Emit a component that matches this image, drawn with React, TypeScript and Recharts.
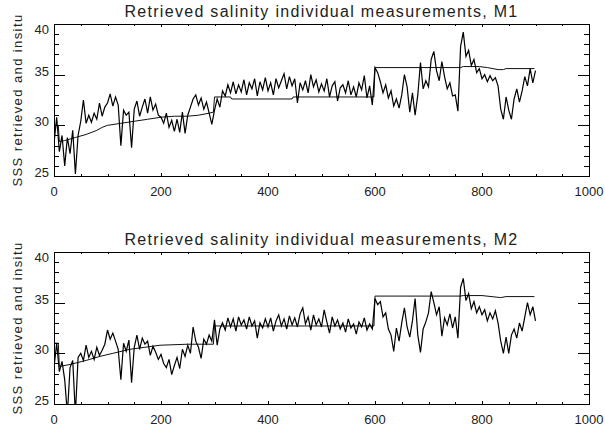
import { ComposedChart, Line, XAxis, YAxis } from "recharts";

// retrieved SSS, sampled every 5 measurements (0..900)
const sampleIndex = Array.from({ length: 181 }, (_, i) => i * 5);

const m1Retrieved = [
  28.2, 30.8, 27.4, 29.0, 26.0, 28.8, 27.2, 29.5, 25.2, 29.0,
  30.4, 32.5, 30.2, 31.0, 30.3, 31.2, 30.6, 32.2, 30.9, 31.8,
  32.2, 33.1, 31.9, 32.8, 32.0, 28.0, 31.5, 31.0, 31.3, 27.8,
  31.6, 32.4, 30.9, 31.8, 32.6, 31.2, 32.8, 31.5, 32.1, 31.0,
  30.8, 30.2, 31.2, 29.8, 30.5, 29.4, 30.6, 29.3, 31.3, 29.2,
  31.0, 31.8, 32.6, 33.0, 32.0, 32.7, 31.6, 32.3, 31.2, 30.1,
  31.5, 32.6, 31.8, 33.4, 32.9, 34.0, 33.2, 34.3, 33.1, 34.0,
  33.3, 34.5, 33.0, 34.2, 33.6, 34.6, 32.9, 34.3, 33.5, 34.7,
  33.4, 34.2, 33.0, 34.6, 33.7, 34.4, 35.1, 33.6, 34.8, 33.9,
  34.6, 32.2, 34.2, 33.5, 34.4, 33.2, 35.0, 33.8, 34.5, 33.3,
  34.1, 33.4, 34.6, 32.8, 33.9, 34.3, 32.4, 33.7, 34.0, 33.2,
  34.4, 33.0, 33.8, 32.8, 34.2, 33.5, 34.9, 32.7, 33.9, 32.0,
  35.7, 35.2, 34.3, 33.2, 34.0, 32.7, 33.4, 31.9, 32.6, 31.7,
  33.0, 35.0, 33.8, 31.3, 33.2, 31.0, 33.0, 36.2, 33.6, 34.4,
  33.8, 36.5, 37.3, 35.4, 34.4, 36.3, 34.8, 33.6, 34.2, 32.9,
  33.0, 31.4, 37.8, 39.2, 36.8, 37.4, 35.9, 36.5, 35.2, 35.6,
  34.6, 35.0, 34.3, 34.9, 34.4, 34.7, 33.9, 31.6, 30.6, 32.8,
  31.5, 30.6, 32.6, 33.6, 32.3, 33.4, 34.8, 33.9, 35.6, 34.2,
  35.4,
];

const m2Retrieved = [
  28.6, 31.0, 28.2, 29.2, 27.4, 24.0, 28.6, 29.3, 24.0, 29.6,
  30.0, 29.3, 30.8, 29.6, 30.2, 29.4, 30.6, 29.8, 30.3, 30.9,
  32.3, 31.4, 32.0, 31.2, 30.4, 27.4, 31.0, 30.2, 31.3, 27.1,
  30.6, 31.8, 30.4, 31.5, 30.9, 31.2, 29.8, 30.7, 30.1, 29.4,
  29.9, 29.0, 28.6, 29.4, 27.9, 28.8, 29.6, 28.5, 30.4, 29.7,
  30.8, 30.0, 32.6, 31.2, 30.6, 29.5, 31.4, 30.9, 31.8, 31.2,
  33.3, 30.8, 32.4, 33.0, 32.3, 33.5, 32.6, 33.4, 32.2, 33.6,
  32.8, 33.3, 32.4, 33.6, 32.7, 33.2, 31.5, 33.0, 32.5, 33.4,
  32.6, 33.5, 32.2, 33.2, 33.8, 32.7, 33.4, 32.4, 33.7, 32.8,
  33.5, 32.6, 33.9, 34.5, 32.9, 33.6, 32.3, 33.8, 32.8, 33.4,
  32.6, 34.3, 33.1, 32.0, 33.6, 32.7, 33.3, 32.4, 33.0, 32.1,
  33.4, 32.5, 32.9, 31.9, 33.1, 32.6, 33.5, 32.3, 32.9, 32.4,
  35.4, 34.8, 35.1, 33.6, 34.0, 32.4, 31.8, 30.2, 32.5, 31.2,
  33.0, 34.5, 32.6, 31.6, 33.2, 35.4, 31.8, 30.1, 32.4, 33.1,
  34.0, 36.1, 35.0, 33.8, 34.6, 31.7, 33.5, 32.8, 33.9, 32.5,
  33.6, 31.5, 36.5, 37.4, 35.2, 35.9, 34.4, 35.1, 34.0, 34.6,
  33.8, 34.3, 33.2, 34.0, 33.4, 34.2, 33.0, 31.2, 30.0, 31.6,
  30.0, 31.8, 32.4, 31.5, 33.0, 32.2, 33.6, 35.0, 33.8, 34.6,
  33.2,
];

// in situ reference, breakpoints of the step curve
const m1InsituX = [0, 8, 10, 20, 40, 60, 80, 90, 100, 125, 150, 175, 200, 225, 250, 270, 290, 298, 300, 330, 332, 445, 447, 598, 600, 760, 765, 795, 810, 830, 840, 845, 898];
const m1InsituY = [30.0, 30.0, 28.4, 28.5, 28.8, 29.1, 29.5, 29.8, 30.0, 30.2, 30.4, 30.6, 30.8, 30.9, 30.9, 31.0, 31.2, 31.3, 32.8, 32.8, 32.6, 32.6, 32.8, 32.8, 35.7, 35.7, 35.8, 35.8, 35.7, 35.5, 35.5, 35.6, 35.6];

const m2InsituX = [0, 8, 10, 30, 60, 86, 110, 142, 170, 198, 250, 298, 300, 598, 600, 760, 765, 800, 835, 845, 898];
const m2InsituY = [31.0, 31.0, 28.7, 28.9, 29.3, 29.7, 30.0, 30.4, 30.6, 30.8, 30.9, 30.9, 32.7, 32.7, 35.65, 35.65, 35.7, 35.7, 35.5, 35.6, 35.6];

const xTicks = Array.from({ length: 21 }, (_, i) => i * 50);
const yTicks = Array.from({ length: 16 }, (_, i) => 25 + i);
const xLabels = [0, 200, 400, 600, 800, 1000];
const yLabels = [25, 30, 35, 40];
const X_MIN = 0;
const X_MAX = 1000;
const Y_MIN = 25;
const Y_MAX = 40;

const FONT = "'Liberation Sans', Arial, sans-serif";
const INK = "#222";
const AXIS = "#000";

// plot box inside each panel (chart margins + axis sizes below)
const PLOT_L = 54;
const PLOT_T = 24;
const PLOT_W = 535;
const PLOT_H = 152;
const px = (v: number) => Math.round(PLOT_L + ((v - X_MIN) / (X_MAX - X_MIN)) * PLOT_W);
const py = (v: number) => Math.round(PLOT_T + PLOT_H - ((v - Y_MIN) / (Y_MAX - Y_MIN)) * PLOT_H);

const BottomLabel = ({ x, y, payload }: any) => (
  <text x={x} y={y + 20} textAnchor="middle" fontSize={13} fontFamily={FONT} fill={INK}>
    {payload.value}
  </text>
);

const LeftLabel = ({ x, y, payload }: any) => (
  <text x={x - 5} y={payload.value === Y_MAX ? y + 10 : y + 1} textAnchor="end" fontSize={13} fontFamily={FONT} fill={INK}>
    {payload.value}
  </text>
);

// box outline with inward ticks on all four sides, IDL style
const Frame = () => {
  const segs: { key: string; x1: number; y1: number; x2: number; y2: number }[] = [];
  xTicks.forEach((t) => {
    const len = t % 200 === 0 ? 3 : 2;
    segs.push({ key: `b${t}`, x1: px(t) + 0.5, y1: PLOT_T + PLOT_H, x2: px(t) + 0.5, y2: PLOT_T + PLOT_H - len });
    segs.push({ key: `t${t}`, x1: px(t) + 0.5, y1: PLOT_T, x2: px(t) + 0.5, y2: PLOT_T + len });
  });
  yTicks.forEach((v) => {
    const len = v % 5 === 0 ? 11 : 5;
    segs.push({ key: `l${v}`, x1: PLOT_L, y1: py(v) + 0.5, x2: PLOT_L + len, y2: py(v) + 0.5 });
    segs.push({ key: `r${v}`, x1: PLOT_L + PLOT_W, y1: py(v) + 0.5, x2: PLOT_L + PLOT_W - len, y2: py(v) + 0.5 });
  });
  return (
    <svg
      width={605}
      height={210}
      style={{ position: "absolute", left: 0, top: 0, zIndex: 10, pointerEvents: "none" }}
    >
      <rect
        x={PLOT_L + 0.5}
        y={PLOT_T + 0.5}
        width={PLOT_W}
        height={PLOT_H}
        fill="none"
        stroke={AXIS}
        strokeWidth={1}
      />
      {segs.map((s) => (
        <line key={s.key} x1={s.x1} y1={s.y1} x2={s.x2} y2={s.y2} stroke={AXIS} strokeWidth={1} />
      ))}
    </svg>
  );
};

type PanelProps = {
  top: number;
  title: string;
  retrieved: number[];
  insituX: number[];
  insituY: number[];
};

const Panel = ({ top, title, retrieved, insituX, insituY }: PanelProps) => {
  const retrievedData = sampleIndex.map((x, i) => ({ x, y: retrieved[i] }));
  const insituData = insituX.map((x, i) => ({ x, y: insituY[i] }));
  return (
    <div style={{ position: "absolute", left: 0, top, width: 605, height: 214 }}>
      <div
        style={{
          position: "absolute",
          left: PLOT_L,
          width: PLOT_W,
          top: 4,
          textAlign: "center",
          fontFamily: FONT,
          fontSize: 16,
          letterSpacing: 1.3,
          lineHeight: "16px",
          color: INK,
          whiteSpace: "nowrap",
        }}
      >
        {title}
      </div>
      <div
        style={{
          position: "absolute",
          left: 18,
          top: 100,
          transform: "translate(-50%, -50%) rotate(-90deg)",
          fontFamily: FONT,
          fontSize: 13,
          letterSpacing: 1.4,
          lineHeight: "14px",
          color: INK,
          whiteSpace: "nowrap",
        }}
      >
        SSS retrieved and insitu
      </div>
      <ComposedChart width={605} height={210} margin={{ top: PLOT_T, right: 16, bottom: 0, left: 0 }}>
        <XAxis
          type="number"
          dataKey="x"
          domain={[X_MIN, X_MAX]}
          ticks={xLabels}
          interval={0}
          allowDataOverflow
          height={34}
          tickSize={0}
          tickMargin={0}
          tickLine={false}
          axisLine={false}
          tick={<BottomLabel />}
        />
        <YAxis
          type="number"
          domain={[Y_MIN, Y_MAX]}
          ticks={yLabels}
          interval={0}
          allowDataOverflow
          width={PLOT_L}
          tickSize={0}
          tickMargin={0}
          tickLine={false}
          axisLine={false}
          tick={<LeftLabel />}
        />
        <Line
          data={insituData}
          dataKey="y"
          type="linear"
          stroke="#111"
          strokeWidth={1}
          dot={false}
          isAnimationActive={false}
        />
        <Line
          data={retrievedData}
          dataKey="y"
          type="linear"
          stroke="#000"
          strokeWidth={1.2}
          dot={false}
          isAnimationActive={false}
        />
      </ComposedChart>
      <Frame />
    </div>
  );
};

export default function App() {
  return (
    <div style={{ position: "fixed", left: 0, top: 0, width: 605, height: 427, background: "#fff" }}>
      <Panel
        top={0}
        title="Retrieved salinity individual measurements, M1"
        retrieved={m1Retrieved}
        insituX={m1InsituX}
        insituY={m1InsituY}
      />
      <Panel
        top={228}
        title="Retrieved salinity individual measurements, M2"
        retrieved={m2Retrieved}
        insituX={m2InsituX}
        insituY={m2InsituY}
      />
    </div>
  );
}
